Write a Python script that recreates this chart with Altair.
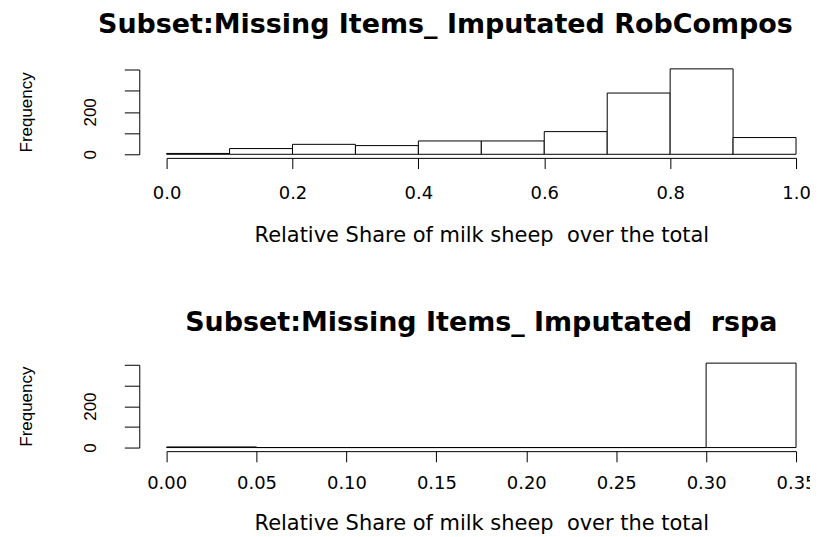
import altair as alt
import pandas as pd

# ---- data ----
top_bin_start = [0.0, 0.1, 0.2, 0.3, 0.4, 0.5, 0.6, 0.7, 0.8, 0.9]
top_bin_end = [0.1, 0.2, 0.3, 0.4, 0.5, 0.6, 0.7, 0.8, 0.9, 1.0]
top_counts = [4, 27, 47, 41, 63, 63, 107, 289, 403, 79]
top_x_ticks = [0.0, 0.2, 0.4, 0.6, 0.8, 1.0]

bot_bin_start = [0.00, 0.05, 0.10, 0.15, 0.20, 0.25, 0.30]
bot_bin_end = [0.05, 0.10, 0.15, 0.20, 0.25, 0.30, 0.35]
bot_counts = [3, 0, 0, 0, 0, 0, 408]
bot_x_ticks = [0.00, 0.05, 0.10, 0.15, 0.20, 0.25, 0.30, 0.35]

y_ticks = [0, 100, 200, 300, 400]

top_title = "Subset:Missing Items_ Imputated RobCompos"
bot_title = "Subset:Missing Items_ Imputated\u00a0 rspa"
x_title = "Relative Share of milk sheep\u00a0 over the total"
y_title = "Frequency"

top_df = pd.DataFrame({"start": top_bin_start, "end": top_bin_end, "count": top_counts})
bot_df = pd.DataFrame({"start": bot_bin_start, "end": bot_bin_end, "count": bot_counts})

SANS = "DejaVu Sans"
ARIAL = "Liberation Sans"


def panel(df, title_text, xdomain, xticks, xfmt, h, title_dx, title_offset,
          label_pad, xtitle_pad):
    xaxis = alt.Axis(
        values=xticks, format=xfmt, title=x_title, grid=False,
        offset=3.6, tickSize=10.7, labelPadding=label_pad, labelFont=SANS, labelFontSize=18,
        labelFlush=False, labelOverlap=False,
        titleFont=SANS, titleFontSize=21, titleFontWeight="normal", titlePadding=xtitle_pad,
    )
    yaxis = alt.Axis(
        values=y_ticks, title=y_title, grid=False,
        labelExpr="datum.value == 0 || datum.value == 200 ? datum.label : ''",
        offset=27.4, tickSize=15, labelPadding=24.7, labelAngle=270,
        labelAlign="center", labelBaseline="bottom",
        labelFont=ARIAL, labelFontSize=17,
        titleFont=ARIAL, titleFontSize=17, titleFontWeight="normal", titlePadding=46,
    )
    return alt.Chart(df).mark_rect(fill="white", stroke="black", strokeWidth=1).encode(
        x=alt.X("start:Q", scale=alt.Scale(domain=xdomain, nice=False, zero=False), axis=xaxis),
        x2="end:Q",
        y=alt.Y("count:Q", scale=alt.Scale(domain=[0, 400], nice=False), axis=yaxis),
        y2=alt.datum(0),
    ).properties(
        width=631, height=h,
        title=alt.TitleParams(title_text, font=SANS, fontSize=27, fontWeight="bold",
                              anchor="middle", frame="group", dx=title_dx,
                              offset=title_offset, color="black"),
    )


top = panel(top_df, top_title, [0, 1], top_x_ticks, ".1f", 85, -36, 29, 16, 22)
bot = panel(bot_df, bot_title, [0, 0.35], bot_x_ticks, ".2f", 83, 0, 26, 13, 20)

chart = alt.vconcat(top, bot, spacing=62).properties(
    padding={"left": 9, "top": 2, "right": -7, "bottom": 0},
    background="white",
).configure_view(stroke=None).configure_axis(
    grid=False, domainColor="black", tickColor="black", labelColor="black",
    titleColor="black", domainWidth=1, tickWidth=1,
)

chart.save("out.html", embed_options={"renderer": "svg", "actions": False})
